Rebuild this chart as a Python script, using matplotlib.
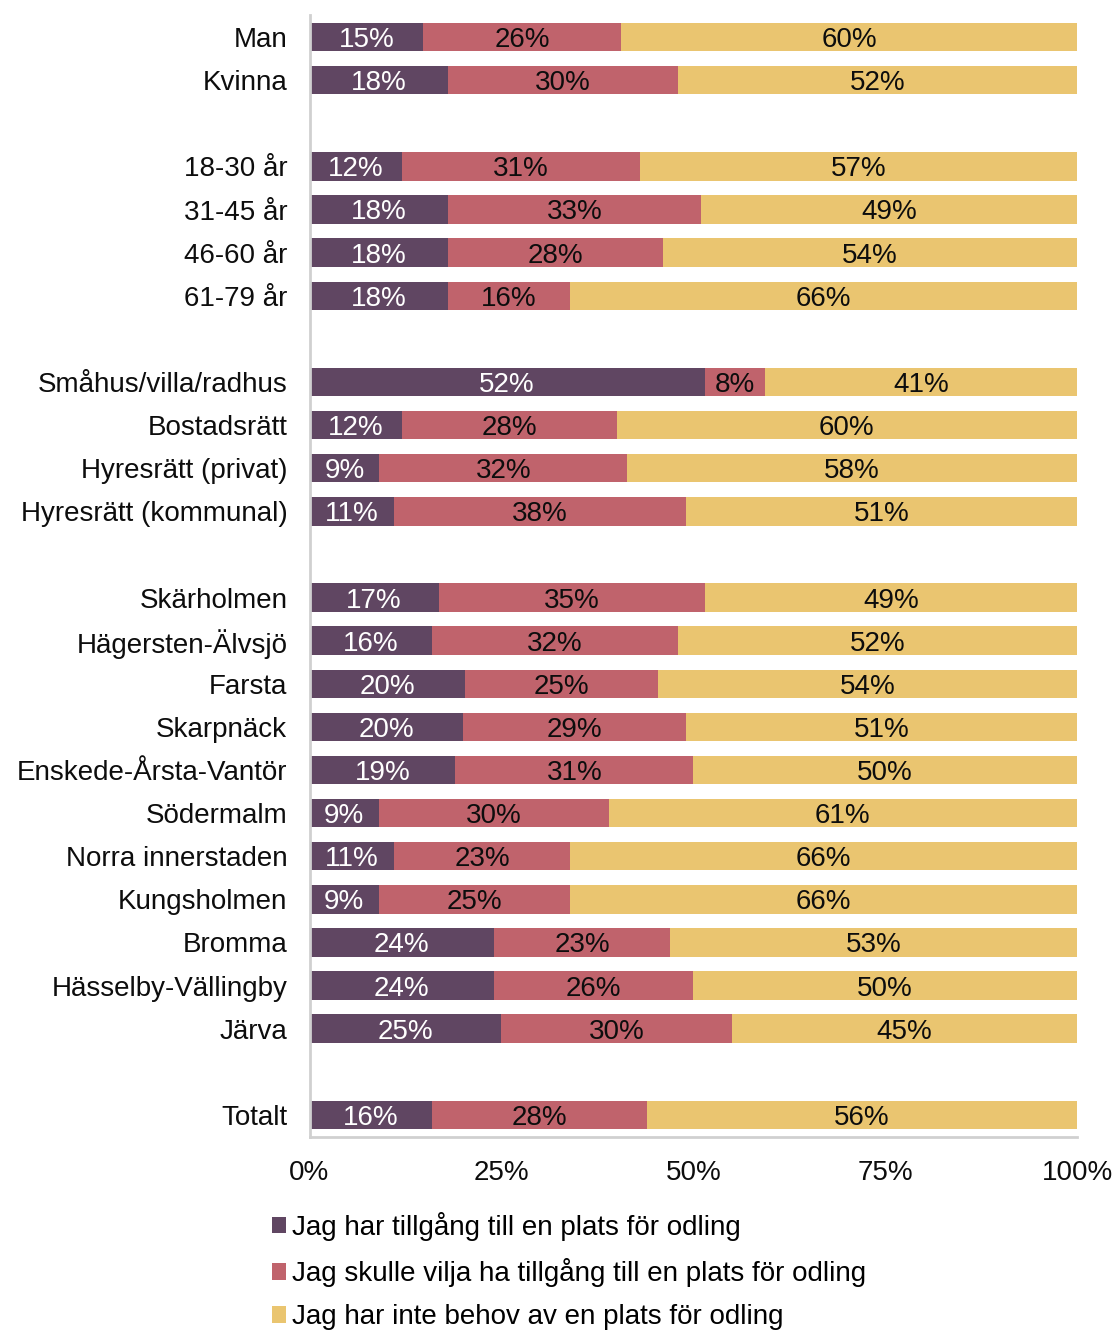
import matplotlib
matplotlib.use("Agg")
import matplotlib.pyplot as plt
import numpy as np

plt.rcParams['font.family'] = ['Liberation Sans', 'DejaVu Sans']

# --- data -------------------------------------------------------------
groups = [
    ["Man", "Kvinna"],
    ["18-30 år", "31-45 år", "46-60 år", "61-79 år"],
    ["Småhus/villa/radhus", "Bostadsrätt", "Hyresrätt (privat)", "Hyresrätt (kommunal)"],
    ["Skärholmen", "Hägersten-Älvsjö", "Farsta", "Skarpnäck", "Enskede-Årsta-Vantör",
     "Södermalm", "Norra innerstaden", "Kungsholmen", "Bromma", "Hässelby-Vällingby", "Järva"],
    ["Totalt"],
]
has_access = [15, 18, 12, 18, 18, 18, 52, 12, 9, 11,
              17, 16, 20, 20, 19, 9, 11, 9, 24, 24, 25, 16]
want_access = [26, 30, 31, 33, 28, 16, 8, 28, 32, 38,
               35, 32, 25, 29, 31, 30, 23, 25, 23, 26, 30, 28]
no_need = [60, 52, 57, 49, 54, 66, 41, 60, 58, 51,
           49, 52, 54, 51, 50, 61, 66, 66, 53, 50, 45, 56]
series_names = ["Jag har tillgång till en plats för odling",
                "Jag skulle vilja ha tillgång till en plats för odling",
                "Jag har inte behov av en plats för odling"]
x_ticks = [0, 25, 50, 75, 100]

colors = ["#604662", "#C0636C", "#EAC570"]
text_colors = ["white", "#0D0D0D", "#0D0D0D"]

# --- layout of rows (groups separated by an empty slot) ----------------
labels, ypos = [], []
slot = 0
for g in groups:
    for name in g:
        labels.append(name)
        ypos.append(slot)
        slot += 1
    slot += 1
n_slots = slot - 1
ypos = np.array(ypos)

vals = np.array([has_access, want_access, no_need], dtype=float)
totals = vals.sum(axis=0)
shares = vals / totals * 100

W, H = 1114, 1330
fig = plt.figure(figsize=(W / 100, H / 100), dpi=100)
ax = fig.add_axes([309.5 / W, 1 - 1136.5 / H, (1077 - 309.5) / W, (1136.5 - 15.5) / H])

FS = 20
slot_px = (1136.5 - 15.5) / (n_slots)
base_off = 0.716 * FS * 100 / 72 / 2 / slot_px

left = np.zeros(len(labels))
handles = []
for i in range(3):
    b = ax.barh(ypos, shares[i], left=left, height=0.66, color=colors[i],
                label=series_names[i], linewidth=0)
    handles.append(b)
    for y, l, w, v in zip(ypos, left, shares[i], vals[i]):
        ax.text(l + w / 2, y + base_off, f"{int(v)}%", ha="center", va="baseline",
                color=text_colors[i], fontsize=FS)
    left += shares[i]

ax.set_xlim(0, 100)
ax.set_ylim(n_slots - 0.5, -0.5)
ax.set_yticks(ypos)
ax.set_yticklabels(labels, fontsize=FS, color="#0D0D0D")
ax.set_xticks(x_ticks)
ax.set_xticklabels([f"{t}%" for t in x_ticks], fontsize=FS, color="#0D0D0D")
ax.tick_params(axis="y", length=0, pad=16)
ax.tick_params(axis="x", length=0, pad=17)
for s in ["top", "right"]:
    ax.spines[s].set_visible(False)
for s in ["left", "bottom"]:
    ax.spines[s].set_color("#D0D0D0")
    ax.spines[s].set_linewidth(2)

fig.legend(handles=handles, labels=series_names, loc="upper left",
           bbox_to_anchor=(258 / W, 1 - 1198 / H), frameon=False, fontsize=FS,
           handlelength=0.5, handleheight=0.55, handletextpad=0.22,
           labelspacing=0.62, borderpad=0)

fig.savefig("out.png", dpi=100)
